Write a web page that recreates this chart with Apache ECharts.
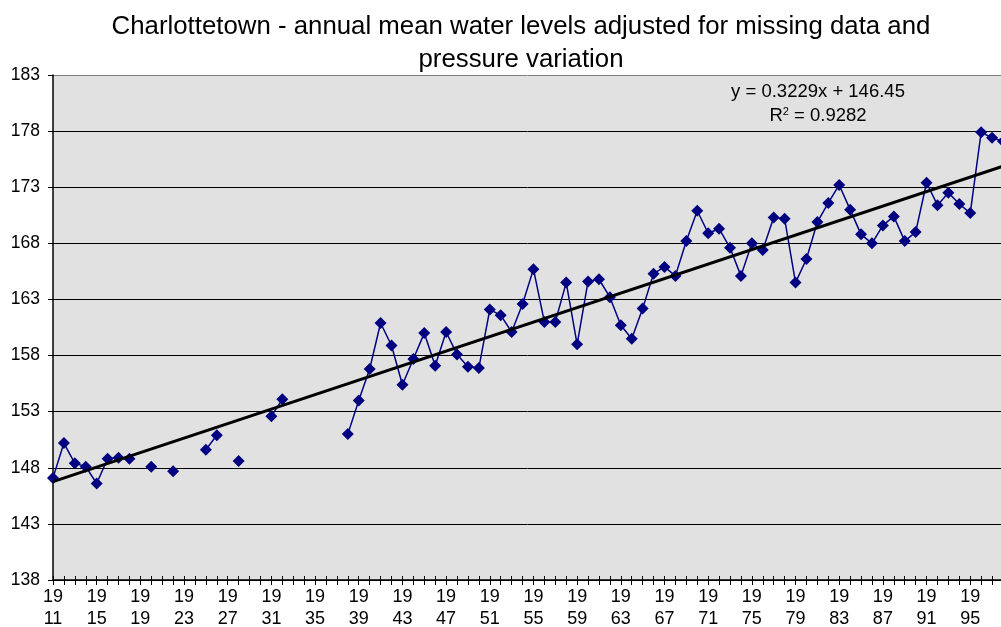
<!DOCTYPE html>
<html>
<head>
<meta charset="utf-8">
<script src="https://cdn.jsdelivr.net/npm/echarts@6/dist/echarts.min.js"></script>
<style>
html,body{margin:0;padding:0;background:#fff;}
#c{width:1001px;height:627px;}
</style>
</head>
<body>
<div id="c"></div>
<script>
const years = [];
for (let y = 1911; y <= 1998; y++) years.push(String(y));

const waterLevels = [
  147.1, 150.2, 148.4, 148.1, 146.6, 148.8, 148.9, 148.8, null, 148.1,
  null, 147.7, null, null, 149.6, 150.9, null, 148.6, null, null,
  152.6, 154.1, null, null, null, null, null, 151.0, 154.0, 156.8,
  160.9, 158.9, 155.4, 157.7, 160.0, 157.1, 160.1, 158.1, 157.0, 156.9,
  162.1, 161.6, 160.1, 162.6, 165.7, 161.0, 161.0, 164.5, 159.0, 164.6,
  164.8, 163.2, 160.7, 159.5, 162.2, 165.3, 165.9, 165.1, 168.2, 170.9,
  168.9, 169.3, 167.6, 165.1, 168.0, 167.4, 170.3, 170.2, 164.5, 166.6,
  169.9, 171.6, 173.2, 171.0, 168.8, 168.0, 169.6, 170.4, 168.2, 169.0,
  173.4, 171.4, 172.5, 171.5, 170.7, 177.9, 177.4, 177.1
];

const trendEnds = [146.77, 174.87];

const yTicks = { min: 138, max: 183, interval: 5 };
const titleLines = ['Charlottetown - annual mean water levels adjusted for missing data and', 'pressure variation'];
const eqLines = ['y = 0.3229x + 146.45', 'R{sup|2} = 0.9282'];

const trendData = years.map((y, i) => i === 0 ? trendEnds[0] : (i === years.length - 1 ? trendEnds[1] : null));

const FONT = 'Liberation Sans, Arial, sans-serif';
const chart = echarts.init(document.getElementById('c'));

const gridLeft = 53, gridTop = 75, gridWidth = 950, gridHeight = 505;

chart.setOption({
  animation: false,
  backgroundColor: '#ffffff',
  title: {
    text: titleLines.join('\n'),
    left: 516, top: 5, textAlign: 'center',
    textStyle: { fontFamily: FONT, fontSize: 25.8, fontWeight: 'normal', color: '#000', lineHeight: 33 }
  },
  grid: {
    left: gridLeft, top: gridTop, width: gridWidth, height: gridHeight,
    containLabel: false, outerBoundsMode: 'none',
    show: true, backgroundColor: '#e1e1e1', borderWidth: 0
  },
  xAxis: [{
    type: 'category', data: years, boundaryGap: false,
    axisLine: { show: true, lineStyle: { color: '#000', width: 1.5 } },
    axisTick: { show: true, interval: 0, length: 5, lineStyle: { color: '#000', width: 1 } },
    axisLabel: {
      interval: 3, margin: 6,
      formatter: v => v.slice(0, 2) + '\n' + v.slice(2),
      fontFamily: FONT, fontSize: 18, color: '#000', lineHeight: 22
    },
    splitLine: { show: false }
  }, {
    type: 'category', data: years, boundaryGap: false, position: 'bottom',
    axisLine: { show: false },
    axisTick: { show: true, inside: true, interval: 0, length: 4, lineStyle: { color: '#000', width: 1 } },
    axisLabel: { show: false },
    splitLine: { show: false }
  }],
  yAxis: {
    type: 'value', min: yTicks.min, max: yTicks.max, interval: yTicks.interval,
    axisLine: { show: true, lineStyle: { color: '#000', width: 1.5 } },
    axisTick: { show: true, length: 5, lineStyle: { color: '#000' } },
    axisLabel: { fontFamily: FONT, fontSize: 17.5, color: '#000', margin: 13 },
    splitLine: {
      show: true,
      lineStyle: {
        color: ['#000','#000','#000','#000','#000','#000','#000','#000','#000','#808080'],
        width: 1
      }
    }
  },
  graphic: [{
    type: 'text', x: 818, y: 80,
    style: {
      text: eqLines.join('\n'),
      align: 'center', textAlign: 'center', fontFamily: FONT, fontSize: 18.5, fill: '#000', lineHeight: 24,
      rich: { sup: { fontSize: 11, lineHeight: 24, padding: [0,0,9,0] } }
    }
  }],
  series: [{
    name: 'levels', type: 'line', data: waterLevels, connectNulls: false,
    symbol: 'diamond', symbolSize: 12, showSymbol: true, showAllSymbol: true,
    itemStyle: { color: '#000080' },
    lineStyle: { color: '#000080', width: 1.5 },
    z: 3
  }, {
    name: 'trend', type: 'line', data: trendData, connectNulls: true,
    symbol: 'none', lineStyle: { color: '#000', width: 3 }, z: 4
  }]
});
</script>
</body>
</html>
